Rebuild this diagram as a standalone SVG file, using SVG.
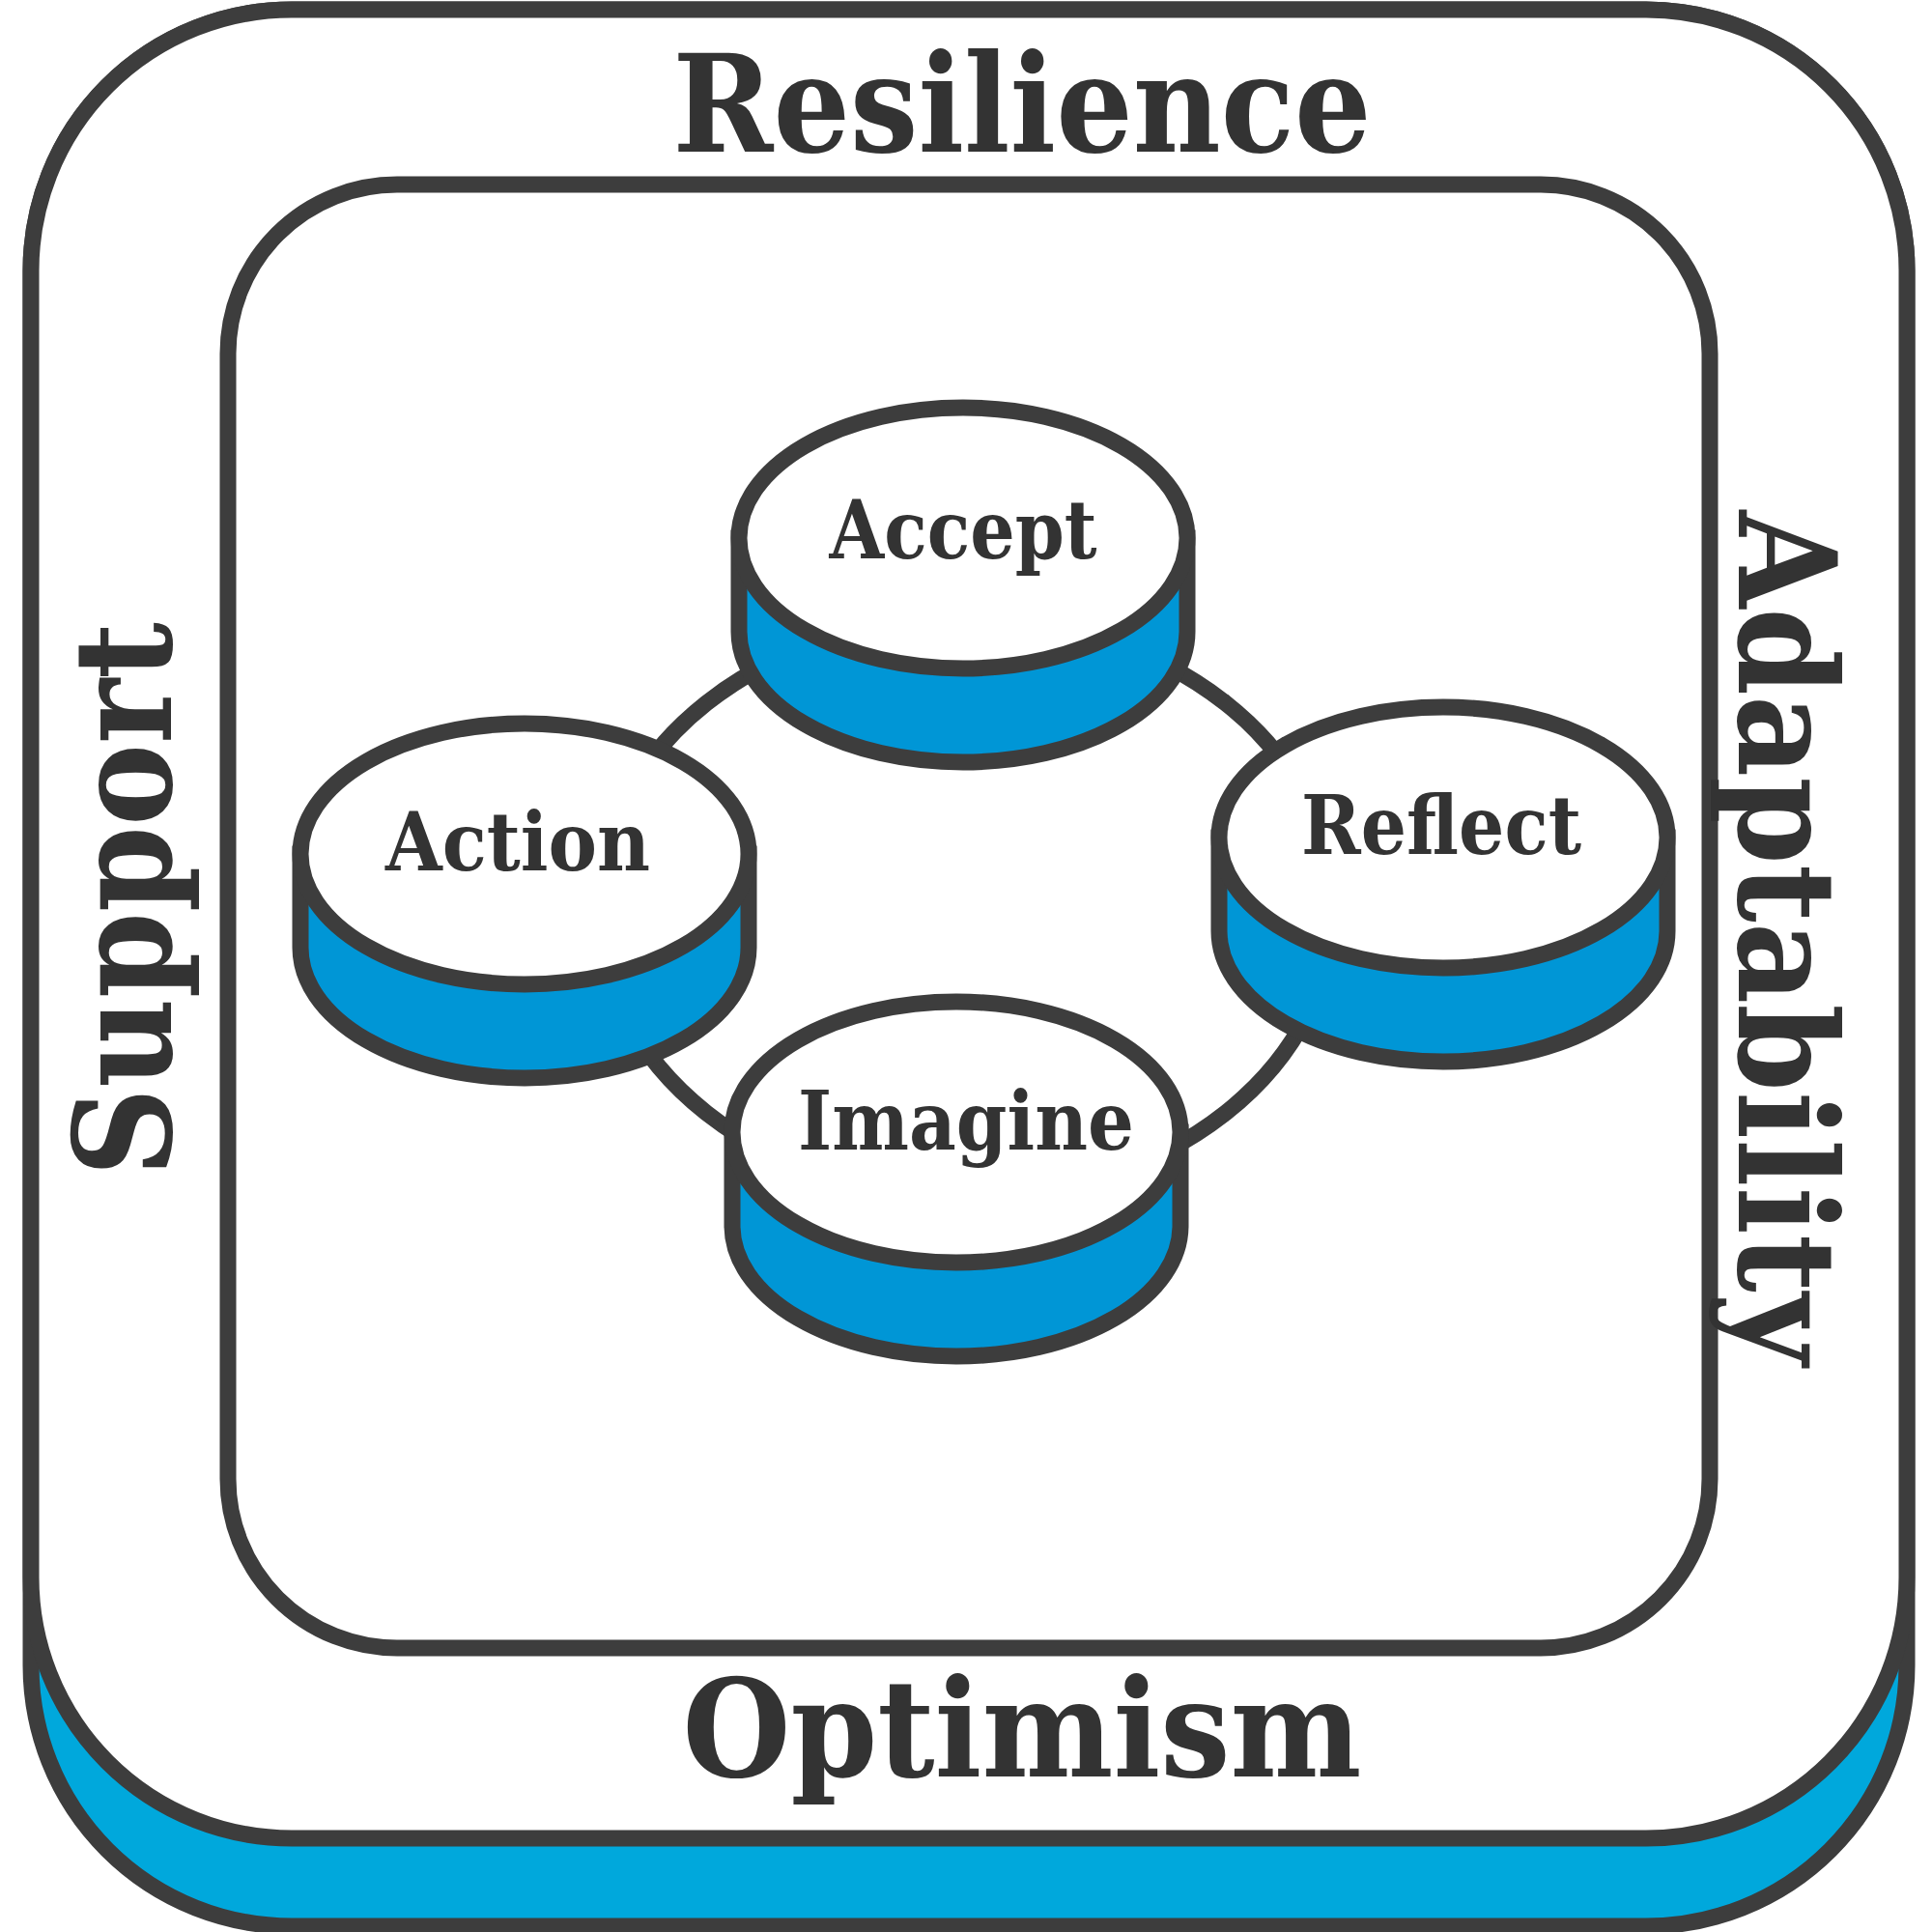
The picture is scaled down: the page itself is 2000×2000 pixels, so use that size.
<svg xmlns="http://www.w3.org/2000/svg" width="2000" height="2000" viewBox="0 0 2000 2000">
<style>
.s{stroke:#3d3d3d;stroke-width:17;}
.side{fill:#0096d6;}
.top{fill:#fff;}
.t{font-family:"DejaVu Serif","Liberation Serif",serif;font-weight:bold;fill:#333;text-anchor:middle;}
</style>
<rect x="32" y="10" width="1942" height="1984" rx="270" fill="#00a8dc" class="s"/>
<rect x="32" y="10" width="1942" height="1893" rx="270" fill="#fff" class="s"/>
<rect x="236" y="191" width="1534" height="1515" rx="175" fill="#fff" class="s"/>
<text class="t" x="1058" y="157" font-size="140" textLength="723" lengthAdjust="spacingAndGlyphs">Resilience</text>
<text class="t" x="1058" y="1839" font-size="140" textLength="703" lengthAdjust="spacingAndGlyphs">Optimism</text>
<text class="t" transform="translate(177,931) rotate(-90)" font-size="140" textLength="574" lengthAdjust="spacingAndGlyphs">Support</text>
<text class="t" transform="translate(1800,971) rotate(90)" font-size="140" textLength="885" lengthAdjust="spacingAndGlyphs">Adaptability</text>
<g id="connectors">
<ellipse cx="1000" cy="940" rx="380" ry="300" fill="none" class="s"/>
</g>
<g id="accept">
<path class="s side" d="M765 557 V654 A232 135 0 0 0 1229 654 V557 Z"/>
<ellipse class="s top" cx="997" cy="557" rx="232" ry="135"/>
<text class="t" x="997" y="578" font-size="85" textLength="277" lengthAdjust="spacingAndGlyphs">Accept</text>
</g>
<g id="action">
<path class="s side" d="M311 884 V981 A232 135 0 0 0 775 981 V884 Z"/>
<ellipse class="s top" cx="543" cy="884" rx="232" ry="135"/>
<text class="t" x="536" y="901" font-size="85" textLength="274" lengthAdjust="spacingAndGlyphs">Action</text>
</g>
<g id="reflect">
<path class="s side" d="M1262 867 V964 A232 135 0 0 0 1726 964 V867 Z"/>
<ellipse class="s top" cx="1494" cy="867" rx="232" ry="135"/>
<text class="t" x="1492" y="884" font-size="85" textLength="290" lengthAdjust="spacingAndGlyphs">Reflect</text>
</g>
<g id="imagine">
<path class="s side" d="M758 1172 V1269 A232 135 0 0 0 1222 1269 V1172 Z"/>
<ellipse class="s top" cx="990" cy="1172" rx="232" ry="135"/>
<text class="t" x="1000" y="1190" font-size="85" textLength="348" lengthAdjust="spacingAndGlyphs">Imagine</text>
</g>
</svg>
